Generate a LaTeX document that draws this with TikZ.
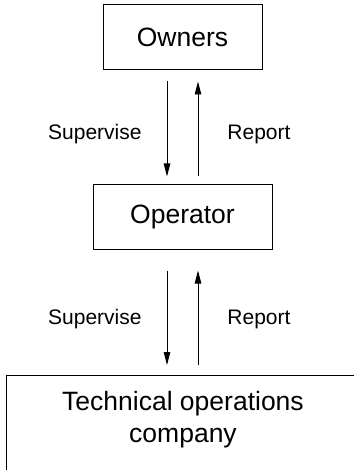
\documentclass[tikz,border=0pt]{standalone}
\usepackage{fontspec}
\setmainfont{Liberation Sans}
\usetikzlibrary{arrows.meta,positioning}
\tikzset{
    box/.style={draw, line width=1pt, inner sep=0pt, font=\fontsize{26.5}{32}\selectfont},
    flow/.style={line width=0.9pt, -{Triangle[length=13pt,width=6.5pt]}},
    tag/.style={inner sep=0pt, yshift=-7pt, font=\fontsize{21}{25}\selectfont}
}
\begin{document}
\begin{tikzpicture}[x=1pt,y=-1pt]
                \def\s{15.5pt}
                \useasboundingbox (0,0) rectangle (353,470);
                \node[box, minimum width=159pt, minimum height=65pt] (owners) at (182.5,37.5) {Owners};
                \node[box, minimum width=179pt, minimum height=64pt] (operator) at (182.5,217) {Operator};
                \node[box, minimum width=354pt, minimum height=120pt, anchor=north] (tech) at (183,375) {};
                \node[box, draw=none, align=center, below=45pt of tech.north, anchor=center] (techtext) {Technical operations\\company};
                \draw[flow, shorten <=11pt, shorten >=8pt] ([xshift=-\s]owners.south) -- ([xshift=-\s]owners.south |- operator.north)
                    node[tag, midway, left=25pt] (sup1) {Supervise};
                \draw[flow, shorten <=8pt, shorten >=11pt] ([xshift=\s]owners.south |- operator.north) -- ([xshift=\s]owners.south)
                    node[tag, midway, right=29pt] (rep1) {Report};
                \draw[flow, shorten <=21pt, shorten >=10pt] ([xshift=-\s]operator.south) -- ([xshift=-\s]operator.south |- tech.north)
                    node[tag, midway, left=25pt] (sup2) {Supervise};
                \draw[flow, shorten <=10pt, shorten >=21pt] ([xshift=\s]operator.south |- tech.north) -- ([xshift=\s]operator.south)
                    node[tag, midway, right=29pt] (rep2) {Report};
            \end{tikzpicture}
\end{document}
